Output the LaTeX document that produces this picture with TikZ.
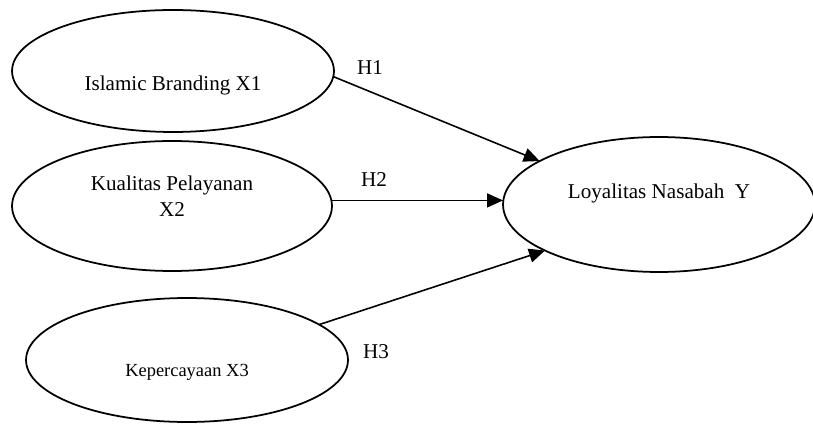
\documentclass[tikz,border=0pt]{standalone}
\usepackage{fontspec}
\setmainfont{Liberation Serif}
\usetikzlibrary{arrows.meta,shapes.geometric}
\tikzset{
  variabel/.style  = {draw, ellipse, line width=1pt, inner sep=0pt, outer sep=0pt,
                      minimum width=6.44cm, minimum height=2.44cm},
  teks/.style      = {font=\fontsize{12}{14.5}\selectfont, align=center, inner sep=0pt},
  hipotesis/.style = {font=\fontsize{12}{14.5}\selectfont, inner sep=1pt},
  panah/.style     = {-{Triangle[length=3.2mm, width=2.8mm]}, line width=0.9pt}
}
\begin{document}
\begin{tikzpicture}[x=0.02cm, y=-0.02cm]
    \useasboundingbox (0,0) rectangle (813,425);
    \node[variabel, label={[teks, yshift=-0.28cm]center:Islamic Branding X1}] (x1) at (173,71) {};
    \node[variabel, minimum width=6.4cm, minimum height=2.6cm,
          label={[teks, yshift=0.2cm]center:Kualitas Pelayanan\\X2}] (x2) at (172,206) {};
    \node[variabel, minimum height=2.48cm,
          label={[teks, font=\fontsize{10.5}{12.5}\selectfont, yshift=-0.24cm]center:Kepercayaan X3}] (x3) at (187,360) {};
    \node[variabel, minimum width=6.24cm, minimum height=2.7cm,
          label={[teks, yshift=0.22cm]center:Loyalitas Nasabah\ \ Y}] (y) at (659,204.5) {};

    \node[hipotesis] (h1) at (370,68) {H1};
    \node[hipotesis] (h2) at (374,180) {H2};
    \node[hipotesis] (h3) at (376,352) {H3};

    \draw[panah] (x1.-2) -- (y.160.6);
    \draw[panah] (x2.2) -- (x2.2 -| y.west);
    \draw[panah] (x3.15.3) -- (y.202.5);
\end{tikzpicture}
\end{document}
